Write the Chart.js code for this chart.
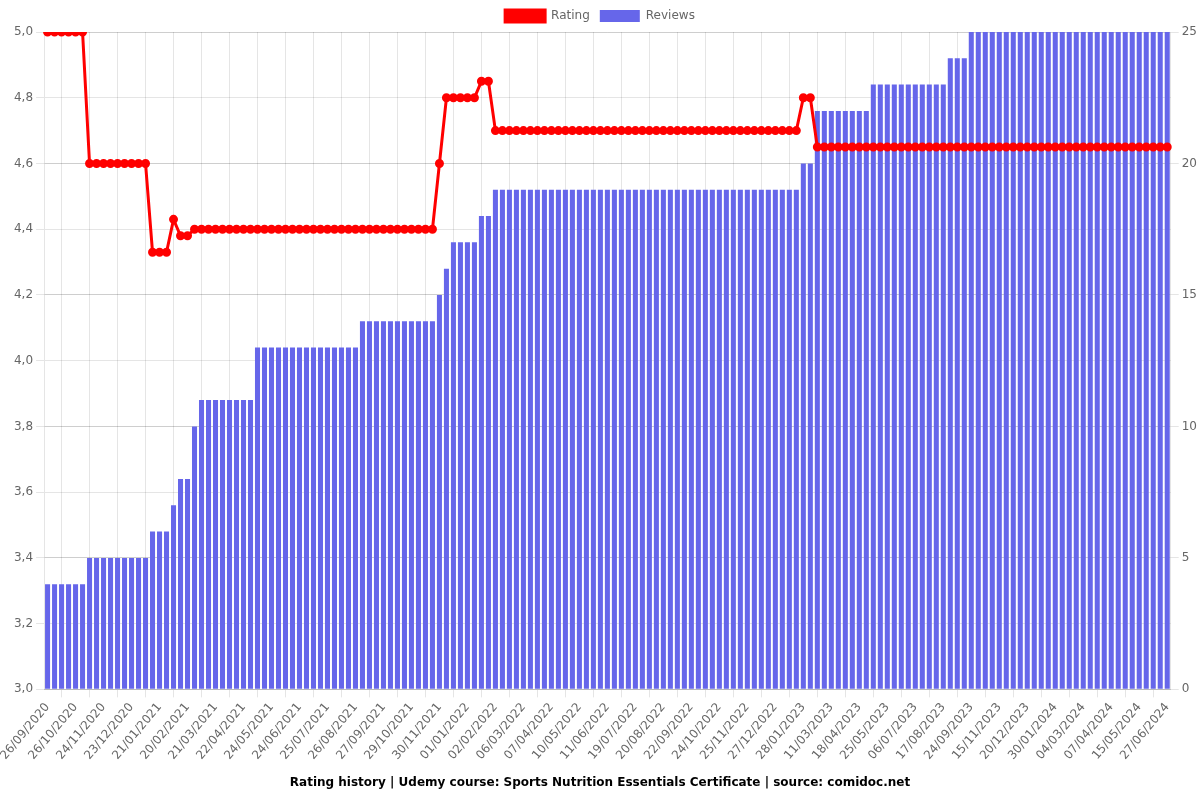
<!DOCTYPE html>
<html>
<head>
<meta charset="utf-8">
<title>Rating history</title>
<script src="https://cdn.jsdelivr.net/npm/chart.js@4.4.1/dist/chart.umd.min.js"></script>
<style>
  html, body { margin: 0; padding: 0; background: #fff; }
  #wrap { width: 1200px; height: 800px; }
</style>
</head>
<body>
<div id="wrap"><canvas id="myChart"></canvas></div>
<script>
// dates shown under the x axis (one every 4 snapshots)
const tickDates = [
  '26/09/2020', '26/10/2020', '24/11/2020', '23/12/2020', '21/01/2021', '20/02/2021',
  '21/03/2021', '22/04/2021', '24/05/2021', '24/06/2021', '25/07/2021', '26/08/2021',
  '27/09/2021', '29/10/2021', '30/11/2021', '01/01/2022', '02/02/2022', '06/03/2022',
  '07/04/2022', '10/05/2022', '11/06/2022', '19/07/2022', '20/08/2022', '22/09/2022',
  '24/10/2022', '25/11/2022', '27/12/2022', '28/01/2023', '11/03/2023', '18/04/2023',
  '25/05/2023', '06/07/2023', '17/08/2023', '24/09/2023', '15/11/2023', '20/12/2023',
  '30/01/2024', '04/03/2024', '07/04/2024', '15/05/2024', '27/06/2024'
];

// average rating per snapshot
const ratings = [
  5.0, 5.0, 5.0, 5.0, 5.0, 5.0,
  4.6, 4.6, 4.6, 4.6, 4.6, 4.6, 4.6, 4.6, 4.6,
  4.33, 4.33, 4.33, 4.43, 4.38, 4.38,
  4.4, 4.4, 4.4, 4.4, 4.4, 4.4, 4.4, 4.4, 4.4, 4.4,
  4.4, 4.4, 4.4, 4.4, 4.4, 4.4, 4.4, 4.4, 4.4, 4.4,
  4.4, 4.4, 4.4, 4.4, 4.4, 4.4, 4.4, 4.4, 4.4, 4.4,
  4.4, 4.4, 4.4, 4.4, 4.4,
  4.6, 4.8, 4.8, 4.8, 4.8, 4.8, 4.85, 4.85,
  4.7, 4.7, 4.7, 4.7, 4.7, 4.7, 4.7, 4.7, 4.7, 4.7,
  4.7, 4.7, 4.7, 4.7, 4.7, 4.7, 4.7, 4.7, 4.7, 4.7,
  4.7, 4.7, 4.7, 4.7, 4.7, 4.7, 4.7, 4.7, 4.7, 4.7,
  4.7, 4.7, 4.7, 4.7, 4.7, 4.7, 4.7, 4.7, 4.7, 4.7,
  4.7, 4.7, 4.7, 4.7,
  4.8, 4.8,
  4.65, 4.65, 4.65, 4.65, 4.65, 4.65, 4.65, 4.65, 4.65, 4.65,
  4.65, 4.65, 4.65, 4.65, 4.65, 4.65, 4.65, 4.65, 4.65, 4.65,
  4.65, 4.65, 4.65, 4.65, 4.65, 4.65, 4.65, 4.65, 4.65, 4.65,
  4.65, 4.65, 4.65, 4.65, 4.65, 4.65, 4.65, 4.65, 4.65, 4.65,
  4.65, 4.65, 4.65, 4.65, 4.65, 4.65, 4.65, 4.65, 4.65, 4.65,
  4.65
];

// number of reviews per snapshot
const reviews = [
  4, 4, 4, 4, 4, 4,
  5, 5, 5, 5, 5, 5, 5, 5, 5,
  6, 6, 6, 7, 8, 8, 10,
  11, 11, 11, 11, 11, 11, 11, 11,
  13, 13, 13, 13, 13, 13, 13, 13, 13, 13, 13, 13, 13, 13, 13,
  14, 14, 14, 14, 14, 14, 14, 14, 14, 14, 14,
  15, 16, 17, 17, 17, 17, 18, 18,
  19, 19, 19, 19, 19, 19, 19, 19, 19, 19,
  19, 19, 19, 19, 19, 19, 19, 19, 19, 19,
  19, 19, 19, 19, 19, 19, 19, 19, 19, 19,
  19, 19, 19, 19, 19, 19, 19, 19, 19, 19,
  19, 19, 19, 19,
  20, 20,
  22, 22, 22, 22, 22, 22, 22, 22,
  23, 23, 23, 23, 23, 23, 23, 23, 23, 23, 23,
  24, 24, 24,
  25, 25, 25, 25, 25, 25, 25, 25, 25, 25,
  25, 25, 25, 25, 25, 25, 25, 25, 25, 25,
  25, 25, 25, 25, 25, 25, 25, 25, 25
];

// only every 4th snapshot date is known from the picture, the rest stay blank
const labels = ratings.map((r, i) => (i % 4 === 0 ? tickDates[i / 4] : ''));

Chart.defaults.font.family = "'DejaVu Sans', sans-serif";
Chart.defaults.font.size = 12;
Chart.defaults.color = '#666';

const ctx = document.getElementById('myChart').getContext('2d');

new Chart(ctx, {
  type: 'bar',
  data: {
    labels: labels,
    datasets: [
      {
        type: 'line',
        label: 'Rating',
        data: ratings,
        yAxisID: 'y',
        borderColor: 'rgb(255, 0, 0)',
        backgroundColor: 'rgb(255, 0, 0)',
        borderWidth: 3,
        pointRadius: 3,
        pointBackgroundColor: 'rgb(255, 0, 0)',
        fill: false,
        tension: 0
      },
      {
        type: 'bar',
        label: 'Reviews',
        data: reviews,
        yAxisID: 'y1',
        backgroundColor: 'rgb(102, 102, 234)',
        borderWidth: 0
      }
    ]
  },
  options: {
    responsive: true,
    maintainAspectRatio: false,
    animation: false,
    plugins: {
      legend: {
        position: 'top'
      },
      title: {
        display: true,
        position: 'bottom',
        text: 'Rating history | Udemy course: Sports Nutrition Essentials Certificate | source: comidoc.net',
        color: '#000',
        font: { size: 12, weight: 'bold' }
      },
      tooltip: { enabled: false }
    },
    scales: {
      x: {
        ticks: {
          minRotation: 50,
          maxRotation: 50
        }
      },
      y: {
        position: 'left',
        min: 3,
        max: 5,
        ticks: {
          stepSize: 0.2,
          callback: v => v.toFixed(1).replace('.', ',')
        }
      },
      y1: {
        position: 'right',
        min: 0,
        max: 25,
        ticks: { stepSize: 5 }
      }
    }
  }
});
</script>
</body>
</html>
